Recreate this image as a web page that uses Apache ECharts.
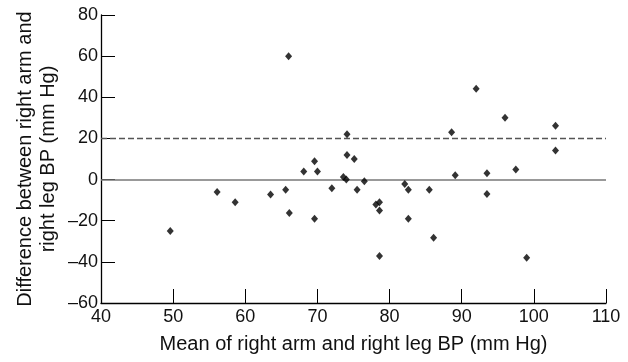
<!DOCTYPE html>
<html>
<head>
<meta charset="utf-8">
<script src="https://cdn.jsdelivr.net/npm/echarts@6/dist/echarts.min.js"></script>
<style>
  html, body { margin: 0; padding: 0; background: #fff; }
  #chart { width: 628px; height: 362px; }
</style>
</head>
<body>
<div id="chart"></div>
<script>
// mean of right arm and right leg BP (mm Hg)
const meanBP = [
  49.6, 56.1, 58.6, 63.5, 65.6, 66.0, 66.1, 68.1, 69.6, 70.0,
  69.6, 72.0, 73.6, 74.0, 74.1, 74.1, 75.1, 75.5, 76.5, 78.1,
  78.6, 78.6, 78.6, 82.1, 82.6, 82.6, 85.5, 86.1, 88.6, 89.1,
  92.0, 93.5, 93.5, 96.0, 97.5, 99.0, 103.0, 103.0
];
// difference between right arm and right leg BP (mm Hg)
const diffBP = [
  -25, -6, -11, -7.3, -5, 60, -16.2, 3.9, 8.9, 3.9,
  -19.1, -4.2, 1.2, 0, 22, 12, 10, -5, -0.8, -12.1,
  -11, -15, -37.2, -2.1, -5, -19.1, -5, -28.3, 23, 2.1,
  44.2, 3.1, -7, 30.1, 4.9, -38, 26.2, 14.1
];
const zeroLine = 0;
const limitLine = 20;

const xTicks = { min: 40, max: 110, interval: 10 };
const yTicks = { min: -60, max: 80, interval: 20 };

const points = meanBP.map((x, i) => [x, diffBP[i]]);

const chart = echarts.init(document.getElementById('chart'), null, { renderer: 'canvas' });

const axisText = { color: '#111', fontFamily: 'Liberation Sans', fontSize: 18 };
const nameText = { color: '#111', fontFamily: 'Liberation Sans', fontSize: 20 };

chart.setOption({
  animation: false,
  backgroundColor: '#fff',
  grid: { left: 101, right: 22, top: 15, bottom: 59 },
  xAxis: {
    type: 'value',
    min: xTicks.min,
    max: xTicks.max,
    interval: xTicks.interval,
    name: 'Mean of right arm and right leg BP (mm Hg)',
    nameLocation: 'middle',
    nameGap: 31,
    nameMoveOverlap: false,
    nameTextStyle: nameText,
    axisLine: { onZero: false, lineStyle: { color: '#000', width: 1.3 } },
    axisTick: { inside: true, length: 14, lineStyle: { color: '#000', width: 1 } },
    axisLabel: Object.assign({ margin: 5 }, axisText),
    splitLine: { show: false }
  },
  yAxis: {
    type: 'value',
    min: yTicks.min,
    max: yTicks.max,
    interval: yTicks.interval,
    name: 'Difference between right arm and\nright leg BP (mm Hg)',
    nameLocation: 'middle',
    nameGap: 41,
    nameMoveOverlap: false,
    nameTextStyle: Object.assign({ lineHeight: 23 }, nameText),
    axisLine: { show: true, onZero: false, lineStyle: { color: '#000', width: 1.3 } },
    axisTick: { show: true, inside: true, length: 14, lineStyle: { color: '#000', width: 1 } },
    axisLabel: Object.assign({
      margin: 3,
      formatter: v => String(v).replace('-', '\u2013')
    }, axisText),
    splitLine: { show: false }
  },
  series: [
    {
      type: 'scatter',
      data: points,
      symbol: 'diamond',
      symbolSize: [7, 8],
      itemStyle: { color: '#000' },
      z: 5,
      markLine: {
        silent: true,
        symbol: 'none',
        label: { show: false },
        data: [
          { yAxis: zeroLine, lineStyle: { color: '#777', width: 1.5, type: 'solid' } },
          { yAxis: limitLine, lineStyle: { color: '#555', width: 1.3, type: [6, 3] } }
        ]
      }
    }
  ]
});
</script>
</body>
</html>
